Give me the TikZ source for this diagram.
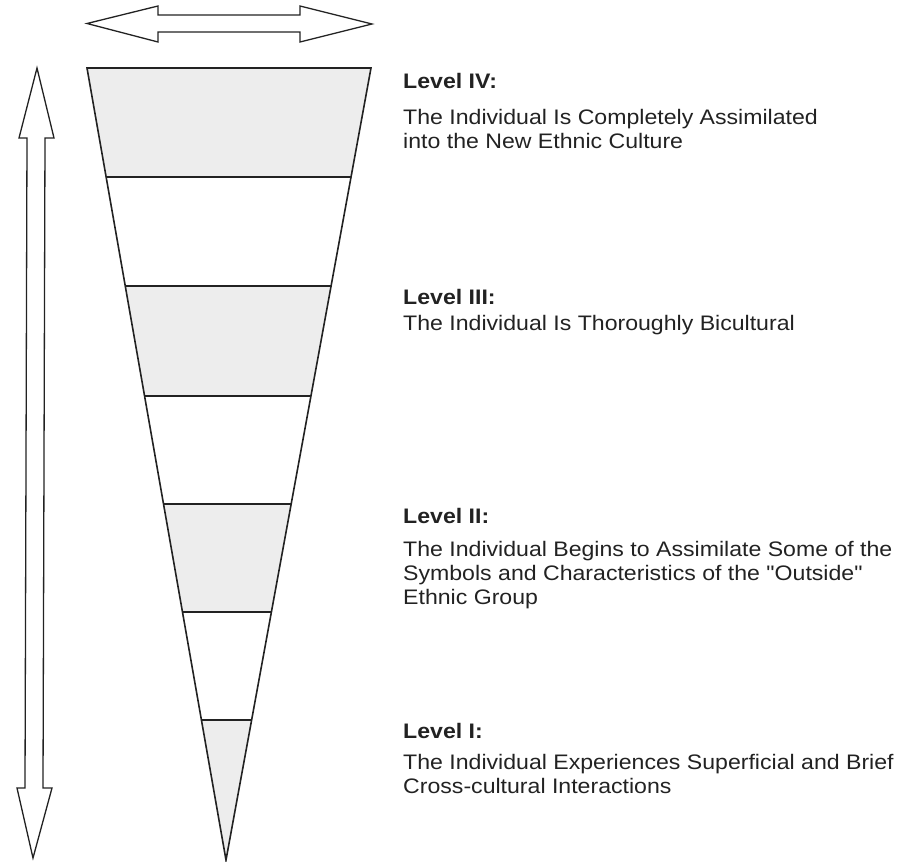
\documentclass[tikz,border=0pt]{standalone}
\usepackage{fontspec}
\setmainfont[FakeStretch=1.10,Ligatures=TeXOff]{Liberation Sans}
\usetikzlibrary{calc}
\definecolor{ink}{HTML}{222222}
\definecolor{band}{HTML}{EDEDED}
\tikzset{
  outline/.style={draw=ink, line width=1.6pt, line join=miter},
  bandfill/.style={fill=band},
  hdr/.style={anchor=base west, inner sep=0pt, font=\fontsize{21}{24}\selectfont\bfseries, text=ink},
  desc/.style={anchor=base west, inner sep=0pt, align=left, font=\fontsize{21}{24}\selectfont, text=ink},
  openarrow/.style={draw=ink, line width=1.3pt, fill=white, line join=miter}
}
\begin{document}
\begin{tikzpicture}[x=1pt,y=-1pt]
\useasboundingbox (0,0) rectangle (898,862);
% triangle corners
\coordinate (TL) at (87,68);
\coordinate (TR) at (371,68);
\coordinate (AP) at (226,860);
% band boundaries
\foreach \n/\t in {1/0.1376,2/0.2753,3/0.4141,4/0.5505,5/0.6869,6/0.8232}{
  \coordinate (L\n) at ($(TL)!\t!(AP)$);
  \coordinate (R\n) at ($(TR)!\t!(AP)$);
}
% shaded bands
\fill[bandfill] (TL) -- (TR) -- (R1) -- (L1) -- cycle;
\fill[bandfill] (L2) -- (R2) -- (R3) -- (L3) -- cycle;
\fill[bandfill] (L4) -- (R4) -- (R5) -- (L5) -- cycle;
\fill[bandfill] (L6) -- (R6) -- (AP) -- cycle;
% triangle outline and band lines
\draw[outline] (TL) -- (TR) -- (AP) -- cycle;
\foreach \n in {1,...,6}{\draw[draw=ink, line width=1.4pt] (L\n) -- (R\n);}
% top horizontal double arrow
\draw[openarrow] (87,23.5) -- (158,6) -- (158,15) -- (300,15) -- (300,6) -- (372,24)
  -- (300,42) -- (300,32) -- (158,32) -- (158,42) -- cycle;
% left vertical double arrow
\draw[openarrow] (37,68) -- (54,138) -- (45,138) -- (43,788) -- (52,788) -- (33,858)
  -- (17,788) -- (25,788) -- (27,138) -- (19,138) -- cycle;
% texts (base anchor of a multi-line node = baseline of its last line)
\node[hdr] (h4) at (403,88) {Level IV:};
\node[desc] (d4) at (403,148) {The Individual Is Completely Assimilated\\into the New Ethnic Culture};
\node[hdr] (h3) at (403,304) {Level III:};
\node[desc] (d3) at (403,330) {The Individual Is Thoroughly Bicultural};
\node[hdr] (h2) at (403,523) {Level II:};
\node[desc] (d2) at (403,604) {The Individual Begins to Assimilate Some of the\\Symbols and Characteristics of the "Outside"\\Ethnic Group};
\node[hdr] (h1) at (403,738) {Level I:};
\node[desc] (d1) at (403,793) {The Individual Experiences Superficial and Brief\\Cross-cultural Interactions};
\end{tikzpicture}
\end{document}
